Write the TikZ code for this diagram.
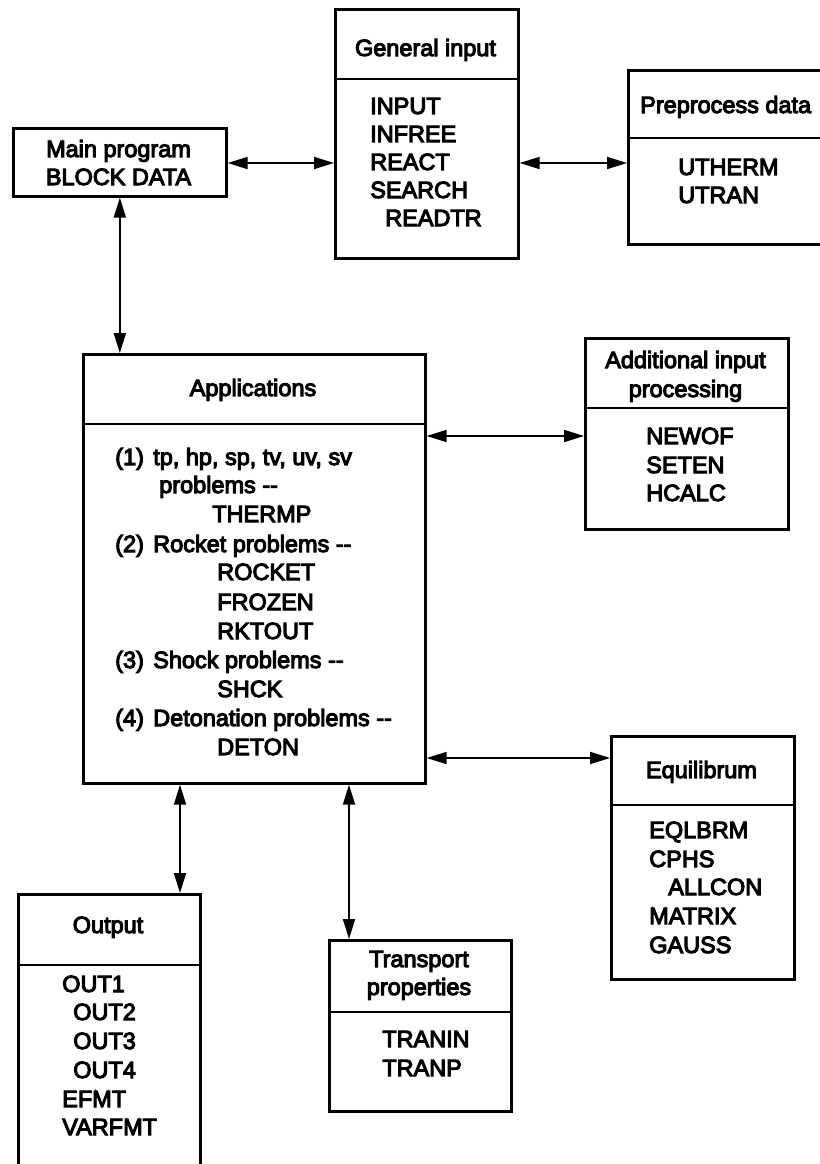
\documentclass[tikz,border=0pt]{standalone}
\usepackage{fontspec}
\newfontfamily\dgf{Liberation Sans}[FakeBold=4.5]
\usetikzlibrary{arrows.meta}
\tikzset{
  box/.style={draw, line width=2pt, inner sep=0pt, anchor=north west},
  divline/.style={line width=2pt},
  lt/.style={inner sep=0pt, anchor=base west, font=\dgf\fontsize{17.6pt}{21pt}\selectfont},
  ct/.style={inner sep=0pt, anchor=base, font=\dgf\fontsize{17.6pt}{21pt}\selectfont},
  arr/.style={{Triangle[length=15pt,width=9pt]}-{Triangle[length=15pt,width=9pt]}, line width=1.4pt}
}
\begin{document}
\begin{tikzpicture}[x=0.75pt,y=-0.75pt]
\useasboundingbox (0,0) rectangle (820,1164);
\clip (0,0) rectangle (820,1164);
\fill[white] (0,0) rectangle (820,1164);

% boxes
\node[box, minimum width=213*0.75pt, minimum height=68*0.75pt] (main) at (12,127) {};
\node[box, minimum width=183*0.75pt, minimum height=249*0.75pt] (gen) at (334,8) {};
\node[box, minimum width=203*0.75pt, minimum height=174*0.75pt] (pre) at (627,69) {};
\node[box, minimum width=342*0.75pt, minimum height=429*0.75pt] (apps) at (82,353) {};
\node[box, minimum width=203*0.75pt, minimum height=191*0.75pt] (addl) at (584,337) {};
\node[box, minimum width=183*0.75pt, minimum height=243*0.75pt] (eq) at (610,735) {};
\node[box, minimum width=182*0.75pt, minimum height=290*0.75pt] (out) at (17,893) {};
\node[box, minimum width=182*0.75pt, minimum height=171*0.75pt] (trans) at (328,939) {};

% dividers
\draw[divline] (gen.west |- 0,79) -- (gen.east |- 0,79);
\draw[divline] (pre.west |- 0,138) -- (pre.east |- 0,138);
\draw[divline] (apps.west |- 0,424) -- (apps.east |- 0,424);
\draw[divline] (addl.west |- 0,408) -- (addl.east |- 0,408);
\draw[divline] (eq.west |- 0,805) -- (eq.east |- 0,805);
\draw[divline] (out.west |- 0,965) -- (out.east |- 0,965);
\draw[divline] (trans.west |- 0,1012) -- (trans.east |- 0,1012);

% main program
\node[ct] (mainA) at (118.5,157) {Main program};
\node[ct] (mainB) at (118.5,185) {BLOCK DATA};

% general input
\node[ct] (genH) at (425.5,56) {General input};
\node[lt] (g1) at (370,114) {INPUT};
\node[lt] (g2) at (370,142) {INFREE};
\node[lt] (g3) at (370,170) {REACT};
\node[lt] (g4) at (370,198) {SEARCH};
\node[lt] (g5) at (385,226) {READTR};

% preprocess
\node[lt] (preH) at (640,113) {Preprocess data};
\node[lt] (p1) at (678,175) {UTHERM};
\node[lt] (p2) at (678,203) {UTRAN};

% applications
\node[ct] (appH) at (253,396) {Applications};
\node[lt] (n1) at (115,465) {(1)};
\node[lt] (a1) at (153,465) {tp, hp, sp, tv, uv, sv};
\node[lt] (a2) at (159,493) {problems {-}{-}};
\node[lt] (a3) at (212,522) {THERMP};
\node[lt] (n2) at (115,552) {(2)};
\node[lt] (a4) at (153,552) {Rocket problems {-}{-}};
\node[lt] (a5) at (217,580) {ROCKET};
\node[lt] (a6) at (217,610) {FROZEN};
\node[lt] (a7) at (217,639) {RKTOUT};
\node[lt] (n3) at (115,668) {(3)};
\node[lt] (a8) at (153,668) {Shock problems {-}{-}};
\node[lt] (a9) at (217,697) {SHCK};
\node[lt] (n4) at (115,726) {(4)};
\node[lt] (a10) at (153,726) {Detonation problems {-}{-}};
\node[lt] (a11) at (217,755) {DETON};

% additional input processing
\node[ct] (addH1) at (685.5,368) {Additional input};
\node[ct] (addH2) at (685.5,397) {processing};
\node[lt] (d1) at (646,444) {NEWOF};
\node[lt] (d2) at (646,473) {SETEN};
\node[lt] (d3) at (646,501) {HCALC};

% equilibrum
\node[ct] (eqH) at (701.5,778) {Equilibrum};
\node[lt] (e1) at (649,838) {EQLBRM};
\node[lt] (e2) at (649,867) {CPHS};
\node[lt] (e3) at (668,895) {ALLCON};
\node[lt] (e4) at (649,924) {MATRIX};
\node[lt] (e5) at (649,953) {GAUSS};

% output
\node[ct] (outH) at (108,933) {Output};
\node[lt] (o1) at (62,992) {OUT1};
\node[lt] (o2) at (73,1020) {OUT2};
\node[lt] (o3) at (73,1049) {OUT3};
\node[lt] (o4) at (73,1078) {OUT4};
\node[lt] (o5) at (62,1107) {EFMT};
\node[lt] (o6) at (62,1135) {VARFMT};

% transport
\node[ct] (trH1) at (419,967) {Transport};
\node[ct] (trH2) at (419,995) {properties};
\node[lt] (t1) at (382,1047) {TRANIN};
\node[lt] (t2) at (382,1076) {TRANP};

% connector anchor coordinates
\coordinate (cMG) at (334,163);
\coordinate (cGP) at (627,163);
\coordinate (cAD) at (584,436);
\coordinate (cAE) at (610,758);
\coordinate (cAO) at (180,893);
\coordinate (cAT) at (349,939);

% connectors
\draw[arr] (main.east |- cMG) -- (cMG);
\draw[arr] (gen.east |- cGP) -- (cGP);
\draw[arr] (main.south) -- (main.south |- apps.north);
\draw[arr] (apps.east |- cAD) -- (cAD);
\draw[arr] (apps.east |- cAE) -- (cAE);
\draw[arr] (apps.south -| cAO) -- (cAO);
\draw[arr] (apps.south -| cAT) -- (cAT);
\end{tikzpicture}
\end{document}
